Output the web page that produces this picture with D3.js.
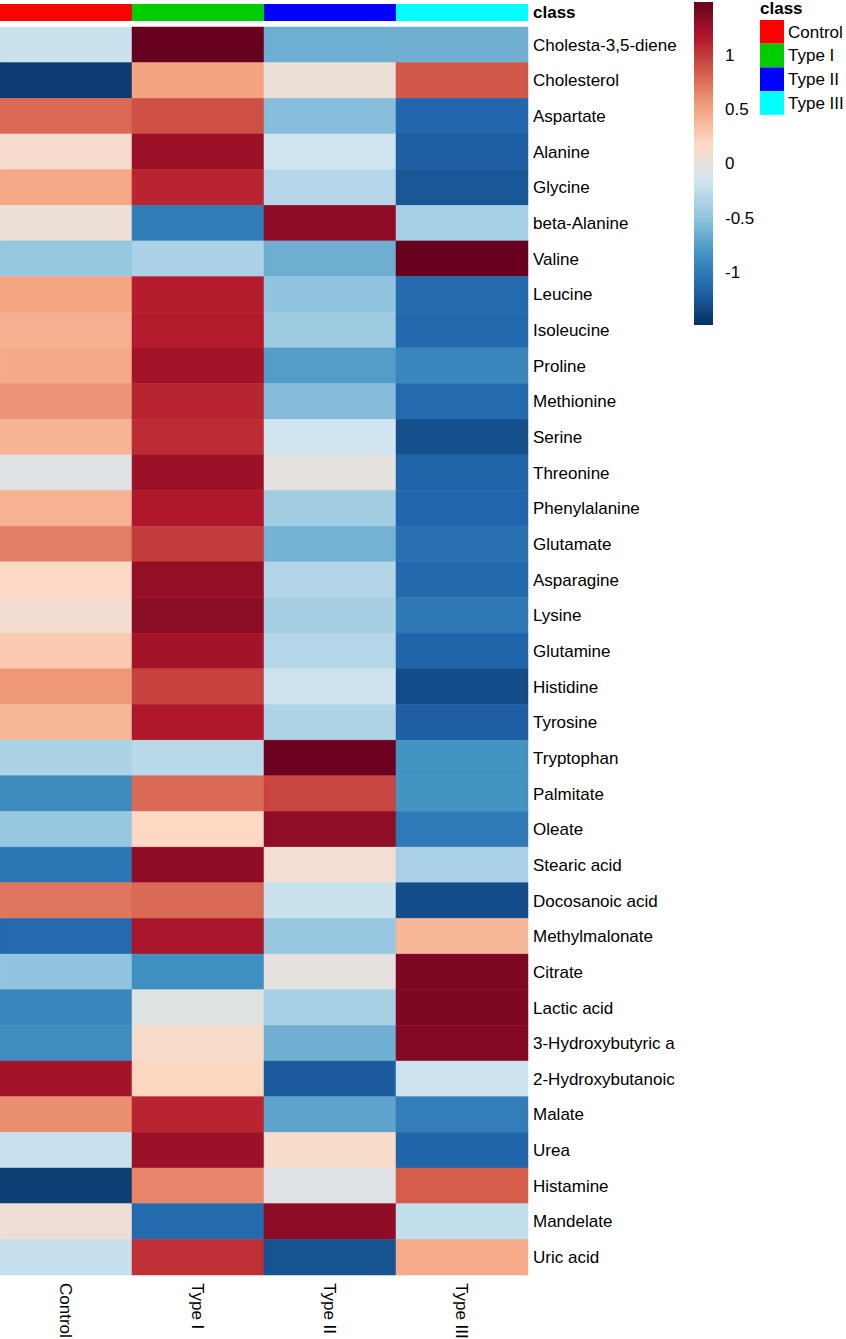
<!DOCTYPE html>
<html>
<head>
<meta charset="utf-8">
<script src="https://cdn.jsdelivr.net/npm/d3@7"></script>
<style>
  body { margin: 0; background: #fff; }
  text { font-family: "Liberation Sans", Arial, sans-serif; }
</style>
</head>
<body>
<div id="heatmap"></div>
<script>
// -------------------- DATA --------------------
const GROUPS = ["Control", "Type I", "Type II", "Type III"];
const GROUP_COLORS = ["#FF0000", "#00CD00", "#0000FF", "#00FFFF"];

const METABOLITES = [
  "Cholesta-3,5-diene", "Cholesterol", "Aspartate", "Alanine", "Glycine",
  "beta-Alanine", "Valine", "Leucine", "Isoleucine", "Proline",
  "Methionine", "Serine", "Threonine", "Phenylalanine", "Glutamate",
  "Asparagine", "Lysine", "Glutamine", "Histidine", "Tyrosine",
  "Tryptophan", "Palmitate", "Oleate", "Stearic acid", "Docosanoic acid",
  "Methylmalonate", "Citrate", "Lactic acid", "3-Hydroxybutyric a", "2-Hydroxybutanoic",
  "Malate", "Urea", "Histamine", "Mandelate", "Uric acid"
];

// row-scaled values, one array per group (same order as METABOLITES)
const controlValues = [
  -0.20, -1.42, 0.78, 0.12, 0.48, 0.03, -0.48, 0.49, 0.43, 0.47,
  0.58, 0.40, -0.06, 0.42, 0.68, 0.17, 0.09, 0.27, 0.56, 0.38,
  -0.36, -0.88, -0.47, -1.04, 0.72, -1.13, -0.50, -0.93, -0.87, 1.22,
  0.60, -0.21, -1.41, 0.05, -0.22
];
const typeIValues = [
  1.49, 0.50, 0.90, 1.25, 1.10, -1.00, -0.37, 1.14, 1.15, 1.22,
  1.10, 1.07, 1.25, 1.17, 1.00, 1.29, 1.33, 1.22, 0.97, 1.17,
  -0.29, 0.78, 0.18, 1.32, 0.78, 1.20, -0.86, -0.06, 0.13, 0.19,
  1.10, 1.26, 0.65, -1.13, 1.05
];
const typeIIValues = [
  -0.65, 0.03, -0.55, -0.17, -0.32, 1.32, -0.65, -0.50, -0.44, -0.76,
  -0.56, -0.17, -0.02, -0.42, -0.62, -0.33, -0.39, -0.32, -0.19, -0.34,
  1.47, 0.95, 1.31, 0.08, -0.20, -0.47, -0.02, -0.38, -0.64, -1.22,
  -0.72, 0.13, -0.07, 1.32, -1.28
];
const typeIIIValues = [
  -0.64, 0.87, -1.15, -1.20, -1.25, -0.38, 1.49, -1.13, -1.14, -0.92,
  -1.13, -1.30, -1.17, -1.16, -1.08, -1.14, -1.03, -1.17, -1.32, -1.20,
  -0.83, -0.83, -1.02, -0.37, -1.31, 0.38, 1.39, 1.39, 1.36, -0.19,
  -0.98, -1.17, 0.84, -0.24, 0.46
];

const LEGEND_TICKS = [1, 0.5, 0, -0.5, -1];
const RDBU_10 = ["#67001F", "#B2182B", "#D6604D", "#F4A582", "#FDDBC7",
                 "#D1E5F0", "#92C5DE", "#4393C3", "#2166AC", "#053061"];

// -------------------- LAYOUT --------------------
const W = 846, H = 1339;
const FONT = "17px";
const heat = { left: 0, top: 27, width: 528, height: 1248 };
const annot = { top: 4, height: 17 };

const svg = d3.select("#heatmap")
  .append("svg")
  .attr("width", W)
  .attr("height", H);

const valueColumns = [controlValues, typeIValues, typeIIValues, typeIIIValues];
const cells = [];
METABOLITES.forEach((m, r) => {
  GROUPS.forEach((g, c) => {
    cells.push({ metabolite: m, group: g, value: valueColumns[c][r] });
  });
});

/* -------------------- SCALES -------------------- */
const x = d3.scaleBand()
  .domain(GROUPS)
  .range([heat.left, heat.left + heat.width]);

const y = d3.scaleBand()
  .domain(METABOLITES)
  .range([heat.top, heat.top + heat.height]);

const maxAbs = 1.49;
const palette = RDBU_10.slice().reverse();
const color = d3.scaleLinear()
  .domain(palette.map((_, i) => -maxAbs + i * (2 * maxAbs) / (palette.length - 1)))
  .range(palette)
  .interpolate(d3.interpolateRgb)
  .clamp(true);

/* -------------------- ANNOTATION BAR -------------------- */
svg.append("g")
  .selectAll("rect")
  .data(GROUPS)
  .join("rect")
  .attr("x", d => x(d))
  .attr("y", annot.top)
  .attr("width", x.bandwidth())
  .attr("height", annot.height)
  .attr("fill", (d, i) => GROUP_COLORS[i]);

svg.append("text")
  .attr("x", heat.left + heat.width + 5)
  .attr("y", annot.top + annot.height / 2)
  .attr("dy", "0.35em")
  .style("font-size", FONT)
  .style("font-weight", "bold")
  .text("class");

/* -------------------- CELLS -------------------- */
svg.append("g")
  .selectAll("rect")
  .data(cells)
  .join("rect")
  .attr("x", d => x(d.group))
  .attr("y", d => y(d.metabolite))
  .attr("width", x.bandwidth())
  .attr("height", y.bandwidth())
  .attr("fill", d => color(d.value))
  .attr("stroke", d => color(d.value))
  .attr("stroke-width", 0.5);

// row labels
svg.append("g")
  .selectAll("text")
  .data(METABOLITES)
  .join("text")
  .attr("x", heat.left + heat.width + 5)
  .attr("y", d => y(d) + y.bandwidth() / 2)
  .attr("dy", "0.35em")
  .style("font-size", FONT)
  .text(d => d);

// column labels (rotated, reading downwards)
svg.append("g")
  .selectAll("text")
  .data(GROUPS)
  .join("text")
  .attr("transform", d => `translate(${x(d) + x.bandwidth() / 2}, ${heat.top + heat.height + 8}) rotate(90)`)
  .attr("dy", "0.35em")
  .style("font-size", FONT)
  .text(d => d);

/* -------------------- COLOUR LEGEND -------------------- */
const legend = { x: 694, top: 2, width: 19, height: 323 };
const legendY = d3.scaleLinear()
  .domain([maxAbs, -maxAbs])
  .range([legend.top, legend.top + legend.height]);

const defs = svg.append("defs");
const grad = defs.append("linearGradient")
  .attr("id", "legend-grad")
  .attr("x1", 0).attr("y1", 0)
  .attr("x2", 0).attr("y2", 1);
d3.range(0, 1.0001, 0.02).forEach(t => {
  grad.append("stop")
    .attr("offset", t)
    .attr("stop-color", color(maxAbs - t * 2 * maxAbs));
});

svg.append("rect")
  .attr("x", legend.x)
  .attr("y", legend.top)
  .attr("width", legend.width)
  .attr("height", legend.height)
  .attr("fill", "url(#legend-grad)");

svg.append("g")
  .selectAll("text")
  .data(LEGEND_TICKS)
  .join("text")
  .attr("x", legend.x + legend.width + 12)
  .attr("y", d => legendY(d))
  .attr("dy", "0.35em")
  .style("font-size", FONT)
  .text(d => d);

/* -------------------- CLASS LEGEND -------------------- */
const classLegend = { x: 760, top: 20, size: 24, step: 23.7 };

svg.append("text")
  .attr("x", classLegend.x)
  .attr("y", 14)
  .style("font-size", FONT)
  .style("font-weight", "bold")
  .text("class");

const items = svg.append("g")
  .selectAll("g")
  .data(GROUPS)
  .join("g")
  .attr("transform", (d, i) => `translate(${classLegend.x}, ${classLegend.top + i * classLegend.step})`);

items.append("rect")
  .attr("width", classLegend.size)
  .attr("height", classLegend.step)
  .attr("fill", (d, i) => GROUP_COLORS[i]);

items.append("text")
  .attr("x", classLegend.size + 4)
  .attr("y", classLegend.step / 2)
  .attr("dy", "0.35em")
  .style("font-size", FONT)
  .text(d => d);
</script>
</body>
</html>
